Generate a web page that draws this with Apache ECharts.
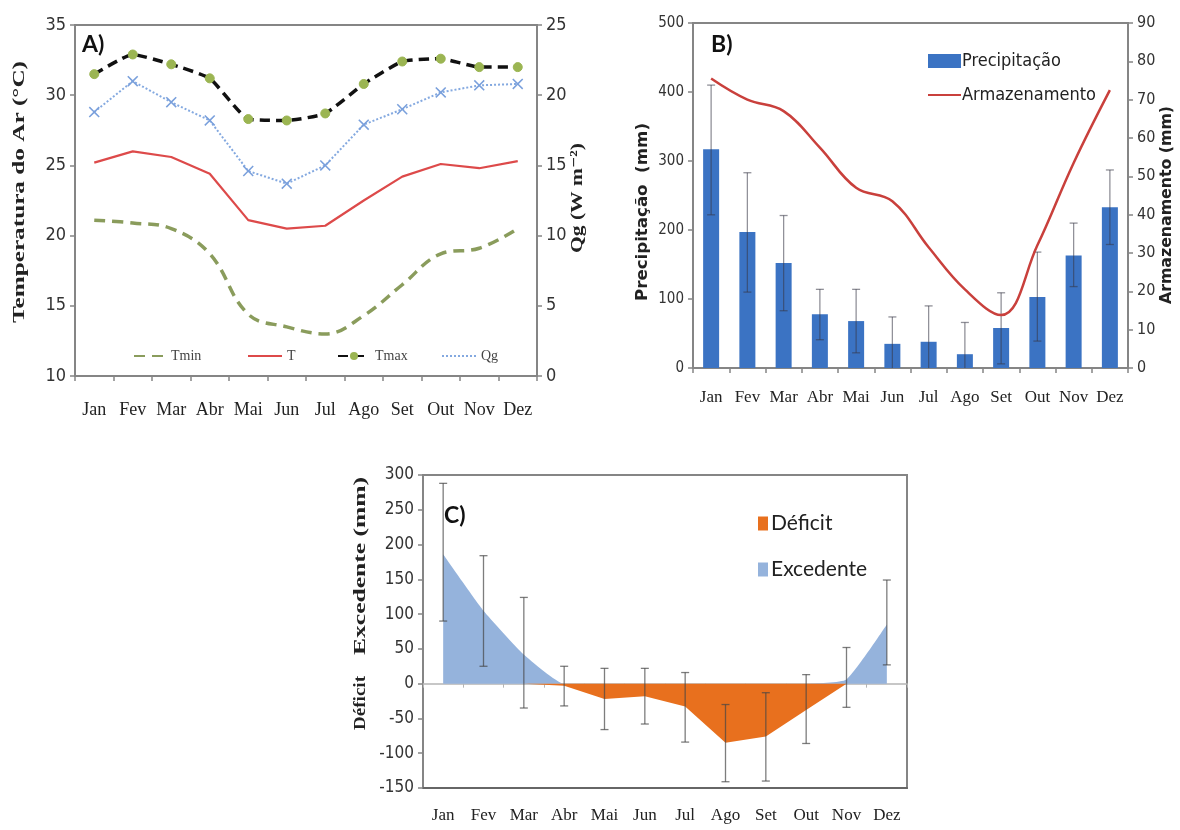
<!DOCTYPE html>
<html>
<head>
<meta charset="utf-8">
<script src="https://cdn.jsdelivr.net/npm/echarts@6/dist/echarts.min.js"></script>
<style>html,body{margin:0;padding:0;background:#fff;}#c{width:1180px;height:830px;}</style>
</head>
<body>
<div id="c"></div>
<script>
const months = ['Jan','Fev','Mar','Abr','Mai','Jun','Jul','Ago','Set','Out','Nov','Dez'];
// Panel A
const tmin = [21.1, 20.9, 20.5, 18.7, 14.4, 13.5, 13.0, 14.3, 16.5, 18.7, 19.1, 20.5];
const tmed = [25.2, 26.0, 25.6, 24.4, 21.1, 20.5, 20.7, 22.5, 24.2, 25.1, 24.8, 25.3];
const tmax = [31.5, 32.9, 32.2, 31.2, 28.3, 28.2, 28.7, 30.8, 32.4, 32.6, 32.0, 32.0];
const qg = [18.8, 21.0, 19.5, 18.2, 14.6, 13.7, 15.0, 17.9, 19.0, 20.2, 20.7, 20.8];
// Panel B
const precip = [317, 197, 152, 78, 68, 35, 38, 20, 58, 103, 163, 233];
const precipLow = [222, 110, 83, 41, 22, -3, -14, -26, 6, 39, 118, 179];
const precipHigh = [410, 283, 221, 114, 114, 74, 90, 66, 109, 168, 210, 287];
const armaz = [75.5, 70, 67, 57.5, 47, 43.5, 31.5, 20.5, 13.8, 32, 53.5, 72.5];
// Panel C
const excedente = [186, 105, 42, 0, 0, 0, 0, 0, 0, 0, 6, 85];
const deficit = [0, 0, 0, -3, -22, -18, -33, -85, -76, -38, 0, 0];
const balLow = [90, 25, -35, -32, -66, -58, -84, -141, -140, -86, -34, 27];
const balHigh = [288, 184, 124, 25, 22, 22, 16, -30, -13, 13, 52, 149];

const SERIF = "'Liberation Serif', 'DejaVu Serif', serif";
const NARROW = "'DejaVu Sans Condensed', 'Liberation Sans Narrow', Lato, 'Open Sans', sans-serif";
const SANS = "Lato, 'Open Sans', sans-serif";
const AX = '#858585';

const chart = echarts.init(document.getElementById('c'), null, {renderer: 'canvas'});
const mctx = document.createElement('canvas').getContext('2d');

function vText(text, font, cx, cy, len) {
  mctx.font = font;
  const w = mctx.measureText(text).width || len;
  return {type: 'text', x: cx, y: cy, rotation: Math.PI / 2, scaleX: len / w,
    style: {text: text, font: font, fill: '#222', align: 'center', verticalAlign: 'middle'}};
}

function errBars(xi, yi, low, high, color, cap, z) {
  return {
    type: 'custom', xAxisIndex: xi, yAxisIndex: yi, z: z || 5, clip: true, silent: true,
    data: months.map((m, i) => [i, low[i], high[i]]),
    encode: {x: 0, y: [1, 2]},
    renderItem: function (params, api) {
      const i = api.value(0);
      const p1 = api.coord([i, api.value(1)]);
      const p2 = api.coord([i, api.value(2)]);
      const st = {stroke: color, lineWidth: 1.3};
      return {
        type: 'group',
        children: [
          {type: 'line', shape: {x1: p1[0], y1: p1[1], x2: p2[0], y2: p2[1]}, style: st},
          {type: 'line', shape: {x1: p1[0] - cap, y1: p1[1], x2: p1[0] + cap, y2: p1[1]}, style: st},
          {type: 'line', shape: {x1: p2[0] - cap, y1: p2[1], x2: p2[0] + cap, y2: p2[1]}, style: st}
        ]
      };
    }
  };
}

function catAxis(gi, fontSize, margin) {
  return {
    type: 'category', gridIndex: gi, data: months, boundaryGap: true,
    axisLine: {lineStyle: {color: AX, width: 2}},
    axisTick: {show: true, length: 5, lineStyle: {color: AX, width: 1.5}},
    axisLabel: {fontFamily: SERIF, fontSize: fontSize, color: '#222', margin: margin, interval: 0},
    splitLine: {show: false}
  };
}

function valAxis(gi, pos, min, max, interval, labelSize) {
  return {
    type: 'value', gridIndex: gi, position: pos, min: min, max: max, interval: interval,
    axisLine: {show: true, lineStyle: {color: AX, width: 2}},
    axisTick: {show: true, length: 5, lineStyle: {color: AX, width: 1.5}},
    axisLabel: {fontFamily: NARROW, fontSize: labelSize, color: '#333', margin: 9},
    splitLine: {show: false}
  };
}

const legendTxt = {fontFamily: SERIF, fontSize: 14, color: '#444'};
const hideSym = {opacity: 0};

const option = {
  backgroundColor: '#fff',
  animation: false,
  grid: [
    {left: 75, top: 25, width: 462, height: 351, show: true, borderColor: AX, borderWidth: 2, containLabel: false},
    {left: 693, top: 23, width: 435, height: 345, show: true, borderColor: AX, borderWidth: 2, containLabel: false},
    {left: 423, top: 475, width: 484, height: 313, show: true, borderColor: AX, borderWidth: 2, containLabel: false}
  ],
  xAxis: [
    catAxis(0, 18, 25),
    catAxis(1, 17, 21),
    Object.assign(catAxis(2, 17, 19), {axisLine: {onZero: false, lineStyle: {color: '#666', width: 2}}, axisTick: {show: false}}),
    {type: 'category', gridIndex: 2, data: months, position: 'top', boundaryGap: true,
      axisLine: {onZero: true, lineStyle: {color: '#b5b5b5', width: 1.5}},
      axisTick: {show: true, inside: true, length: 4, lineStyle: {color: '#b5b5b5'}},
      axisLabel: {show: false}, splitLine: {show: false}}
  ],
  yAxis: [
    valAxis(0, 'left', 10, 35, 5, 18),
    valAxis(0, 'right', 0, 25, 5, 18),
    valAxis(1, 'left', 0, 500, 100, 15),
    valAxis(1, 'right', 0, 90, 10, 16),
    valAxis(2, 'left', -150, 300, 50, 17)
  ],
  legend: [
    {data: ['Tmin'], left: 128, top: 344, itemWidth: 32, itemHeight: 10, itemStyle: hideSym, textStyle: legendTxt},
    {data: ['T'], left: 242, top: 344, itemWidth: 34, itemHeight: 10, itemStyle: hideSym, textStyle: legendTxt},
    {data: ['Tmax'], left: 332, top: 344, itemWidth: 32, itemHeight: 10, textStyle: legendTxt},
    {data: ['Qg'], left: 436, top: 344, itemWidth: 34, itemHeight: 10, itemStyle: hideSym, textStyle: legendTxt},
    {data: [{name: 'Precipitação', icon: 'rect'}, {name: 'Armazenamento', itemStyle: hideSym}], orient: 'vertical', left: 922, top: 47,
      itemWidth: 33, itemHeight: 14, itemGap: 16,
      textStyle: {fontFamily: NARROW, fontSize: 18, color: '#222', padding: [0, 0, 0, -4]}},
    {data: [{name: 'Déficit', icon: 'rect'}, {name: 'Excedente', icon: 'rect'}], orient: 'vertical', left: 753, top: 508, itemWidth: 10, itemHeight: 14, itemGap: 25,
      textStyle: {fontFamily: SANS, fontSize: 21, color: '#222', padding: [0, 0, 0, -2]}}
  ],
  graphic: [
    {type: 'text', left: 82, top: 33, style: {text: 'A)', font: 'bold 23px ' + SANS, fill: '#111'}},
    {type: 'text', left: 711, top: 33, style: {text: 'B)', font: 'bold 23px ' + SANS, fill: '#111'}},
    {type: 'text', left: 444, top: 504, style: {text: 'C)', font: 'bold 23px ' + SANS, fill: '#111'}},
    vText('Temperatura do Ar (°C)', 'bold 17px ' + SERIF, 20, 192, 262),
    vText('Qg (W m⁻²)', 'bold 17px ' + SERIF, 578, 198, 110),
    vText('Precipitação  (mm)', 'bold 15px ' + NARROW, 643, 212, 178),
    vText('Armazenamento (mm)', 'bold 15px ' + NARROW, 1167, 205, 198),
    vText('Excedente (mm)', 'bold 16px ' + SERIF, 361, 566, 178),
    vText('Déficit', 'bold 16px ' + SERIF, 361, 703, 54)
  ],
  series: [
    {name: 'Tmin', type: 'line', xAxisIndex: 0, yAxisIndex: 0, data: tmin, smooth: 0.4, showSymbol: false, symbol: 'none',
      lineStyle: {color: '#8a9c5c', width: 3.5, type: [11, 7]}, itemStyle: {color: '#8a9c5c'}, z: 3},
    {name: 'T', type: 'line', xAxisIndex: 0, yAxisIndex: 0, data: tmed, smooth: false, symbol: 'none',
      lineStyle: {color: '#dd4a4a', width: 2.2}, itemStyle: {color: '#dd4a4a'}, z: 3},
    {name: 'Tmax', type: 'line', xAxisIndex: 0, yAxisIndex: 0, data: tmax, smooth: 0.15, symbol: 'circle', symbolSize: 9,
      lineStyle: {color: '#111', width: 3.5, type: [10, 6]}, itemStyle: {color: '#9bb552', borderColor: '#9bb552'}, z: 4},
    {name: 'Qg', type: 'line', xAxisIndex: 0, yAxisIndex: 1, data: qg, smooth: false,
      symbol: 'path://M0,1L1,0L5,4L9,0L10,1L6,5L10,9L9,10L5,6L1,10L0,9L4,5Z', symbolSize: 11,
      lineStyle: {color: '#84a9e0', width: 2, type: [2, 2]}, itemStyle: {color: '#7aa0dc'}, z: 3},

    {name: 'Precipitação', type: 'bar', xAxisIndex: 1, yAxisIndex: 2, data: precip, barWidth: 16,
      itemStyle: {color: '#3b73c3'}, z: 2},
    errBars(1, 2, precipLow, precipHigh, 'rgba(55,55,70,0.55)', 4, 4),
    {name: 'Armazenamento', type: 'line', xAxisIndex: 1, yAxisIndex: 3, data: armaz, smooth: 0.4, symbol: 'none',
      lineStyle: {color: '#c9403c', width: 2.5}, itemStyle: {color: '#c9403c'}, z: 5},

    {name: 'Excedente', type: 'line', xAxisIndex: 2, yAxisIndex: 4, data: excedente, smooth: 0.15, symbol: 'none',
      lineStyle: {width: 0, color: '#95b3dc'}, areaStyle: {color: '#95b3dc', opacity: 1}, itemStyle: {color: '#95b3dc'}, z: 2},
    {name: 'Déficit', type: 'line', xAxisIndex: 2, yAxisIndex: 4, data: deficit, smooth: false, symbol: 'none',
      lineStyle: {width: 0, color: '#e8701e'}, areaStyle: {color: '#e8701e', opacity: 1}, itemStyle: {color: '#e8701e'}, z: 2},
    errBars(2, 4, balLow, balHigh, 'rgba(70,70,70,0.7)', 4, 6)
  ]
};
chart.setOption(option);
</script>
</body>
</html>
